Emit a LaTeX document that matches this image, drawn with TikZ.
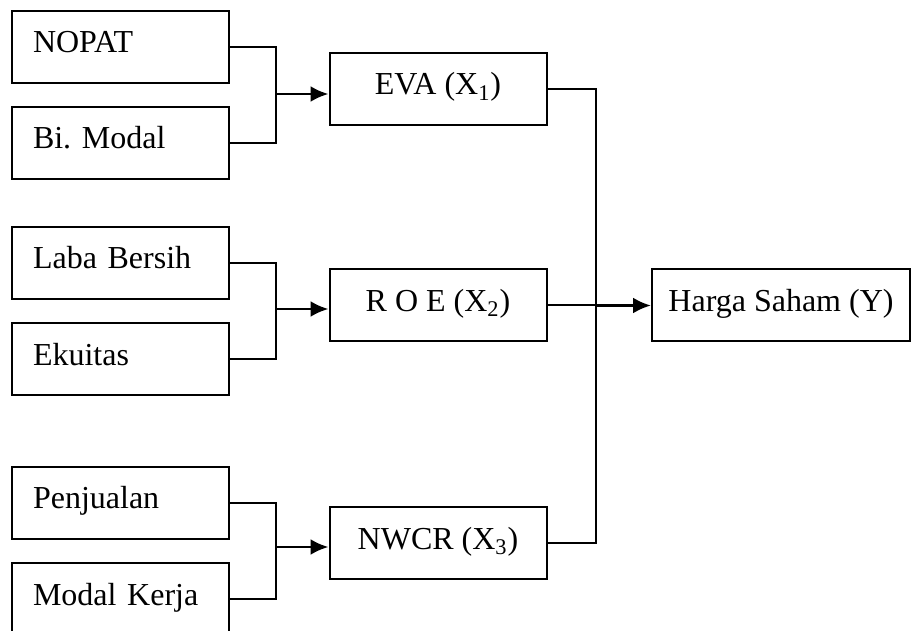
\documentclass[tikz,border=0pt]{standalone}
\usepackage{fontspec}
\setmainfont{Liberation Serif}
\usetikzlibrary{arrows.meta}

\tikzset{
  box/.style={draw, line width=1pt, minimum width=108.5pt, minimum height=36pt,
    inner sep=0pt, text height=11pt, text depth=5pt, font=\fontsize{16}{19}\selectfont\frenchspacing},
  leftbox/.style={box, text width=87.5pt, align=left},
  link/.style={line width=1pt},
  arr/.style={line width=1.4pt, -{Latex[length=9pt,width=8pt]}}
}

\begin{document}
\begin{tikzpicture}[x=0.5pt, y=-0.5pt]

    % Frame of the picture
    \useasboundingbox (0,0) rectangle (912,631);

    % Indicators
    \node[leftbox] (nopat) at (120.5,47) {NOPAT};
    \node[leftbox] (bimodal) at (120.5,143) {Bi. Modal};
    \node[leftbox] (laba) at (120.5,263) {Laba Bersih};
    \node[leftbox] (ekuitas) at (120.5,359) {Ekuitas};
    \node[leftbox] (penjualan) at (120.5,503) {Penjualan};
    \node[leftbox] (modalkerja) at (120.5,599) {Modal Kerja};

    % Variables
    \node[box] (eva) at (438,89) {EVA (X\textsubscript{1})};
    \node[box] (roe) at (438,305.5) {R O E (X\textsubscript{2})};
    \node[box] (nwcr) at (438,543) {NWCR (X\textsubscript{3})};
    \node[box, minimum width=129pt] (harga) at (781,305.5) {Harga Saham (Y)};

    % Junction points
    \coordinate (j1) at (276,94);
    \coordinate (j2) at (276,309);
    \coordinate (j3) at (276,547);
    \coordinate (jr) at (596,305.5);

    % Left brackets
    \draw[link] (nopat.east) -- (nopat.east -| j1) -- (bimodal.east -| j1) -- (bimodal.east);
    \draw[link] (laba.east) -- (laba.east -| j2) -- (ekuitas.east -| j2) -- (ekuitas.east);
    \draw[link] (penjualan.east) -- (penjualan.east -| j3) -- (modalkerja.east -| j3) -- (modalkerja.east);
    \draw[arr] (j1) -- (eva.west |- j1);
    \draw[arr] (j2) -- (roe.west |- j2);
    \draw[arr] (j3) -- (nwcr.west |- j3);

    % Right bracket
    \draw[link] (eva.east) -- (eva.east -| jr) -- (nwcr.east -| jr) -- (nwcr.east);
    \draw[link] (roe.east) -- (jr);
    \draw[arr] (jr) -- (harga.west);

\end{tikzpicture}
\end{document}
